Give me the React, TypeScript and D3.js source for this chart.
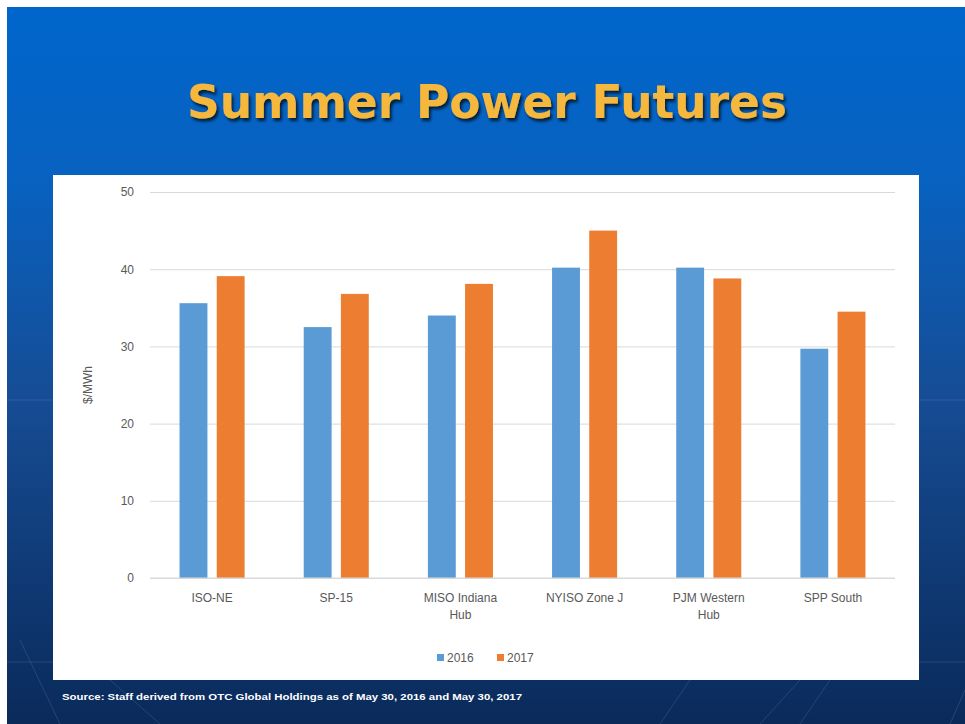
import React, { useEffect, useRef } from 'react';
import * as d3 from 'd3';

const hubs = ['ISO-NE', 'SP-15', 'MISO Indiana Hub', 'NYISO Zone J', 'PJM Western Hub', 'SPP South'];
const hubLines = [['ISO-NE'], ['SP-15'], ['MISO Indiana', 'Hub'], ['NYISO Zone J'], ['PJM Western', 'Hub'], ['SPP South']];
const years = ['2016', '2017'];
const prices2016 = [35.6, 32.5, 34.0, 40.2, 40.2, 29.7];
const prices2017 = [39.1, 36.8, 38.1, 45.0, 38.8, 34.5];
const yTicks = [0, 10, 20, 30, 40, 50];

const colors = ['#5b9bd5', '#ed7d31'];

const App = () => {
  const svgRef = useRef<SVGSVGElement>(null);

  useEffect(() => {
    const svg = d3.select(svgRef.current);
    svg.selectAll('*').remove();

    const W = 965;
    const H = 724;

    // slide background
    const defs = svg.append('defs');
    const grad = defs.append('linearGradient').attr('id', 'bg').attr('x1', 0).attr('y1', 0).attr('x2', 0).attr('y2', 1);
    grad.append('stop').attr('offset', '0%').attr('stop-color', '#0066cc');
    grad.append('stop').attr('offset', '25%').attr('stop-color', '#0861bf');
    grad.append('stop').attr('offset', '55%').attr('stop-color', '#164c94');
    grad.append('stop').attr('offset', '100%').attr('stop-color', '#0a2a5a');

    const shadow = defs.append('filter').attr('id', 'sh').attr('x', '-5%').attr('y', '-20%').attr('width', '110%').attr('height', '140%');
    shadow.append('feDropShadow').attr('dx', 2).attr('dy', 3).attr('stdDeviation', 1.5).attr('flood-color', '#000').attr('flood-opacity', 0.7);

    svg.append('rect').attr('width', W).attr('height', H).attr('fill', '#ffffff');
    svg.append('rect').attr('x', 7).attr('y', 7).attr('width', W - 7).attr('height', H - 7).attr('fill', 'url(#bg)');

    // faint decoration lines on the slide
    const deco = svg.append('g').attr('stroke', '#6f95c8').attr('stroke-opacity', 0.25).attr('stroke-width', 1);
    deco.append('line').attr('x1', 7).attr('x2', 60).attr('y1', 400).attr('y2', 400);
    deco.append('line').attr('x1', 915).attr('x2', 965).attr('y1', 400).attr('y2', 400);
    deco.append('line').attr('x1', 7).attr('x2', 60).attr('y1', 662).attr('y2', 662);
    deco.append('line').attr('x1', 915).attr('x2', 965).attr('y1', 662).attr('y2', 662);
    [[60, 724, 20, 640], [160, 724, 110, 680], [660, 724, 690, 680], [760, 724, 800, 680], [800, 724, 830, 680], [950, 724, 965, 690]].forEach(([a, b, c, d]) => {
      deco.append('line').attr('x1', a).attr('y1', b).attr('x2', c).attr('y2', d);
    });

    // title
    svg.append('text')
      .attr('x', 487).attr('y', 118)
      .attr('text-anchor', 'middle')
      .attr('font-family', 'DejaVu Sans, Verdana, sans-serif')
      .attr('font-weight', 'bold')
      .attr('font-size', 46)
      .attr('textLength', 600)
      .attr('lengthAdjust', 'spacingAndGlyphs')
      .attr('fill', '#f6b73c')
      .attr('filter', 'url(#sh)')
      .text('Summer Power Futures');

    // chart panel
    svg.append('rect').attr('x', 53).attr('y', 175).attr('width', 866).attr('height', 505).attr('fill', '#ffffff');

    const margin = { left: 150, right: 895, top: 192, bottom: 578 };

    const x0 = d3.scaleBand().domain(hubs).range([margin.left, margin.right]).paddingInner(0.476).paddingOuter(0.238);
    const x1 = d3.scaleBand().domain(years).range([0, x0.bandwidth()]).paddingInner(0.25);
    const y = d3.scaleLinear().domain([0, 50]).range([margin.bottom, margin.top]);

    const font = 'Liberation Sans, Arial, sans-serif';

    // gridlines + y axis labels
    const yAxis = svg.append('g')
      .attr('transform', `translate(${margin.left},0)`)
      .call(d3.axisLeft(y).tickValues(yTicks).tickSize(-(margin.right - margin.left)).tickPadding(16));
    yAxis.select('.domain').remove();
    yAxis.selectAll('.tick line').attr('stroke', '#d9d9d9');
    yAxis.selectAll('.tick text').attr('fill', '#595959').attr('font-size', 12).attr('font-family', font);

    svg.append('text')
      .attr('transform', `translate(92,${(margin.top + margin.bottom) / 2}) rotate(-90)`)
      .attr('text-anchor', 'middle')
      .attr('fill', '#595959').attr('font-size', 12).attr('font-family', font)
      .text('$/MWh');

    const rows = hubs.map((h, i) => ({ hub: h, vals: [prices2016[i], prices2017[i]] }));

    const groups = svg.append('g').selectAll('g').data(rows).join('g')
      .attr('transform', d => `translate(${x0(d.hub)},0)`);
    groups.selectAll('rect').data(d => d.vals.map((v, j) => ({ year: years[j], v, j }))).join('rect')
      .attr('x', d => x1(d.year)!)
      .attr('y', d => y(d.v))
      .attr('width', x1.bandwidth())
      .attr('height', d => y(0) - y(d.v))
      .attr('fill', d => colors[d.j]);

    // baseline
    svg.append('line').attr('x1', margin.left).attr('x2', margin.right).attr('y1', y(0)).attr('y2', y(0)).attr('stroke', '#d9d9d9');

    // category labels
    const lab = svg.append('g');
    hubs.forEach((h, i) => {
      const cx = x0(h)! + x0.bandwidth() / 2;
      hubLines[i].forEach((line, k) => {
        lab.append('text')
          .attr('x', cx).attr('y', 602 + k * 17)
          .attr('text-anchor', 'middle')
          .attr('fill', '#595959').attr('font-size', 12).attr('font-family', font)
          .text(line);
      });
    });

    // legend
    const leg = svg.append('g');
    const legX = [437, 497];
    years.forEach((yr, j) => {
      leg.append('rect').attr('x', legX[j]).attr('y', 654).attr('width', 7).attr('height', 7).attr('fill', colors[j]);
      leg.append('text').attr('x', legX[j] + 10).attr('y', 662)
        .attr('fill', '#595959').attr('font-size', 12).attr('font-family', font)
        .text(yr);
    });

    // source note
    svg.append('text')
      .attr('x', 62).attr('y', 700)
      .attr('fill', '#ffffff')
      .attr('font-family', 'Liberation Sans Narrow, Liberation Sans, Arial, sans-serif')
      .attr('font-weight', 'bold')
      .attr('font-size', 9.5)
      .attr('textLength', 460)
      .attr('lengthAdjust', 'spacingAndGlyphs')
      .text('Source: Staff derived from OTC Global Holdings as of May 30, 2016 and May 30, 2017');
  }, []);

  return (
    <svg ref={svgRef} width={965} height={724} style={{ position: 'absolute', left: 0, top: 0 }} />
  );
};

export default App;
